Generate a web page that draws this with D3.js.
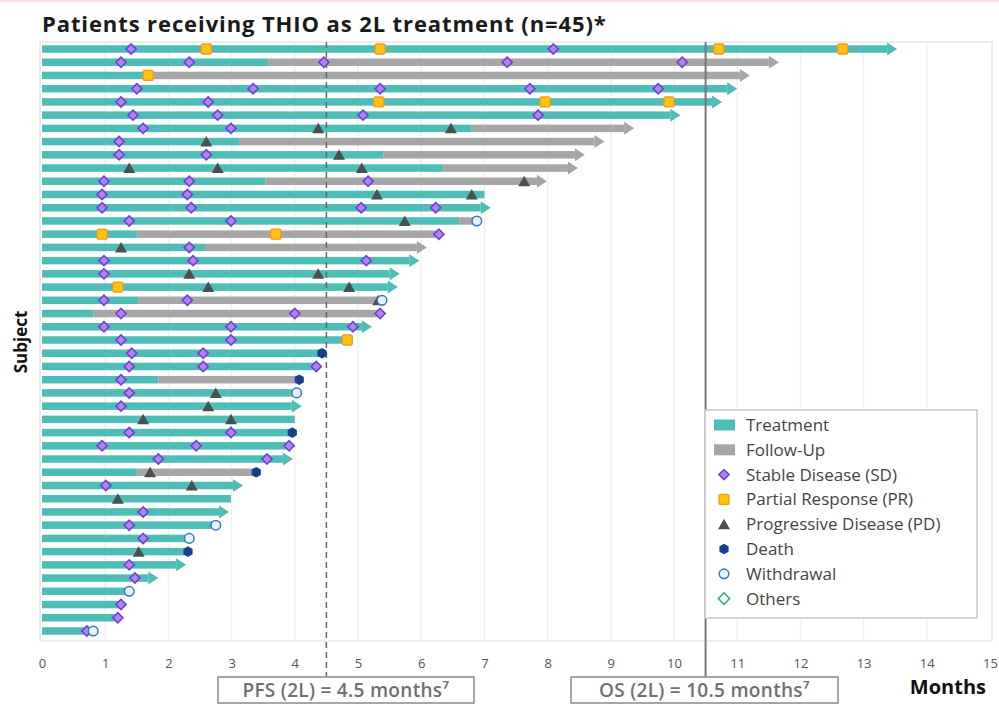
<!DOCTYPE html>
<html><head><meta charset="utf-8">
<script src="https://cdn.jsdelivr.net/npm/d3@7"></script>
<style>
body{margin:0;background:#fff}
svg{display:block}
text{font-family:"Open Sans",sans-serif}
</style>
</head><body>
<svg id="chart" width="999" height="705"></svg>
<script>
// swimmer plot, one row per subject (top = longest)
const months = d3.range(0, 16);
const subjects = d3.range(1, 46);

// end of treatment (teal), end of whole bar (follow-up in gray), arrow = still ongoing
const treatEnd = [13.53,3.58,1.68,11.0,10.76,10.1,6.8,3.13,5.4,6.35,3.54,7.0,7.1,6.6,1.5,2.58,5.97,5.66,5.63,1.52,
  0.81,5.22,4.83,4.43,4.34,1.84,4.03,4.11,4.0,3.96,3.91,3.97,1.5,3.18,2.99,2.96,2.75,2.33,2.31,2.28,1.84,1.38,1.25,1.2,0.81];
const totalEnd = [13.53,11.66,11.2,11.0,10.76,10.1,9.37,8.9,8.59,8.48,7.99,7.0,7.1,6.88,6.28,6.09,5.97,5.66,5.63,5.38,
  5.35,5.22,4.83,4.43,4.34,4.07,4.03,4.11,4.0,3.96,3.91,3.97,3.39,3.18,2.99,2.96,2.75,2.33,2.31,2.28,1.84,1.38,1.25,1.2,0.81];
const ongoing = [1,1,1,1,1,1,1,1,1,1,1,0,1,0,0,1,1,1,1,0,0,1,0,0,0,0,0,1,0,0,0,1,0,1,0,1,0,0,0,1,1,0,0,0,0];

// [subject, month]
const sdEvents = [[1,1.41],[1,8.09],[2,1.25],[2,2.33],[2,4.46],[2,7.36],[2,10.13],[4,1.5],[4,3.34],[4,5.35],[4,7.72],[4,9.75],
  [5,1.25],[5,2.63],[6,1.44],[6,2.78],[6,5.08],[6,7.85],[7,1.6],[7,2.99],[8,1.22],[9,1.22],[9,2.6],[11,0.98],[11,2.33],[11,5.16],
  [12,0.95],[12,2.3],[13,0.95],[13,2.36],[13,5.05],[13,6.23],[14,1.38],[14,2.99],[15,6.28],[16,2.33],[17,0.98],[17,2.39],[17,5.13],
  [18,0.98],[20,0.98],[20,2.3],[21,1.25],[21,4.0],[21,5.35],[22,0.98],[22,2.99],[22,4.92],[23,1.25],[23,2.99],[24,1.42],[24,2.55],
  [25,1.38],[25,2.55],[25,4.34],[26,1.25],[27,1.38],[28,1.25],[30,1.38],[30,2.99],[31,0.95],[31,2.44],[31,3.91],[32,1.84],[32,3.56],
  [34,1.01],[36,1.6],[37,1.38],[38,1.6],[40,1.38],[41,1.47],[43,1.25],[44,1.2],[45,0.71]];
const prEvents = [[1,2.6],[1,5.35],[1,10.71],[1,12.67],[3,1.68],[5,5.33],[5,7.96],[5,9.92],[15,0.95],[15,3.7],[19,1.2],[23,4.83]];
const pdEvents = [[7,4.37],[7,6.47],[8,2.6],[9,4.7],[10,1.38],[10,2.78],[10,5.06],[11,7.63],[12,5.3],[12,6.8],[14,5.74],[16,1.25],
  [18,2.33],[18,4.37],[19,2.63],[19,4.86],[20,5.32],[27,2.75],[28,2.63],[29,1.6],[29,2.99],[33,1.71],[34,2.37],[35,1.2],[39,1.53]];
const deathEvents = [[24,4.43],[26,4.07],[30,3.96],[33,3.39],[39,2.31]];
const withdrawalEvents = [[14,6.88],[20,5.38],[27,4.03],[37,2.75],[38,2.33],[42,1.38],[45,0.81]];

const medianPFS = 4.5, medianOS = 10.5;
const legendItems = ["Treatment","Follow-Up","Stable Disease (SD)","Partial Response (PR)","Progressive Disease (PD)","Death","Withdrawal","Others"];

const TEAL = "#4dbdb6", GREY = "#a6a6a6";
const svg = d3.select("#chart");
const x = d3.scaleLinear().domain([0, 15]).range([42, 990]);
const y = d3.scalePoint().domain(subjects).range([49, 631]);
const barH = 7.5, headLen = 10, headH = 13;

svg.append("rect").attr("x",0).attr("y",0).attr("width",999).attr("height",2).attr("fill","#f6dede");

// title
svg.append("text").attr("x", 42).attr("y", 32)
  .attr("font-size", 22).attr("font-weight", 700).attr("letter-spacing", 0.9).attr("fill", "#1a1a1a")
  .text("Patients receiving THIO as 2L treatment (n=45)*");

// frame + grid
svg.append("rect").attr("x", 40).attr("y", 42).attr("width", 952).attr("height", 599)
  .attr("fill", "none").attr("stroke", "#dcdcdc");
svg.append("g").selectAll("line").data(months.slice(1, 15)).join("line")
  .attr("x1", d => x(d)).attr("x2", d => x(d)).attr("y1", 42).attr("y2", 641)
  .attr("stroke", "#f1f1f1").attr("stroke-width", 1.5);

// bars
const bars = svg.append("g");
subjects.forEach((s, i) => {
  const tE = treatEnd[i], e = totalEnd[i], arrow = ongoing[i];
  const cy = y(s);
  const bodyEnd = arrow ? x(e) - headLen : x(e);
  bars.append("rect").attr("x", x(0)).attr("y", cy - barH / 2)
    .attr("width", Math.min(x(tE), bodyEnd) - x(0)).attr("height", barH).attr("fill", TEAL);
  if (e > tE) {
    bars.append("rect").attr("x", x(tE)).attr("y", cy - barH / 2)
      .attr("width", bodyEnd - x(tE)).attr("height", barH).attr("fill", GREY);
  }
  if (arrow) {
    const b = bodyEnd;
    bars.append("path")
      .attr("d", `M${b},${cy - headH / 2}L${x(e)},${cy}L${b},${cy + headH / 2}Z`)
      .attr("fill", e > tE ? GREY : TEAL);
  }
});

// reference lines
svg.append("line").attr("x1", x(medianPFS)).attr("x2", x(medianPFS)).attr("y1", 42).attr("y2", 677)
  .attr("stroke", "#666").attr("stroke-width", 1.5).attr("stroke-dasharray", "6,4");
svg.append("line").attr("x1", x(medianOS)).attr("x2", x(medianOS)).attr("y1", 42).attr("y2", 677)
  .attr("stroke", "#777").attr("stroke-width", 2);

// marker shapes
function hexPath(r) {
  const pts = d3.range(6).map(k => {
    const a = Math.PI / 6 + k * Math.PI / 3;
    return [r * Math.cos(a), r * Math.sin(a)];
  });
  return "M" + pts.join("L") + "Z";
}
const markerStyles = {
  sd: g => g.append("rect").attr("x", -3.6).attr("y", -3.6).attr("width", 7.2).attr("height", 7.2)
    .attr("transform", "rotate(45)").attr("fill", "#ae86ee").attr("stroke", "#7440d4").attr("stroke-width", 1.6),
  pr: g => g.append("rect").attr("x", -5).attr("y", -5).attr("width", 10).attr("height", 10).attr("rx", 1.5)
    .attr("fill", "#ffc20e").attr("stroke", "#f39a1e").attr("stroke-width", 1.3),
  pd: g => g.append("path").attr("d", "M0,-5.5L6,5L-6,5Z").attr("fill", "#4a4f52"),
  death: g => g.append("path").attr("d", hexPath(5.3)).attr("fill", "#173f8c"),
  wd: g => g.append("circle").attr("r", 4.8).attr("fill", "#e4f3fc").attr("stroke", "#3b78b4").attr("stroke-width", 1.5),
  other: g => g.append("rect").attr("x", -4).attr("y", -4).attr("width", 8).attr("height", 8)
    .attr("transform", "rotate(45)").attr("fill", "#fff").attr("stroke", "#3cb371").attr("stroke-width", 1.6)
};
function drawEvents(list, kind) {
  svg.append("g").selectAll("g").data(list).join("g")
    .attr("transform", d => `translate(${x(d[1])},${y(d[0])})`)
    .each(function () { markerStyles[kind](d3.select(this)); });
}
drawEvents(sdEvents, "sd");
drawEvents(prEvents, "pr");
drawEvents(pdEvents, "pd");
drawEvents(deathEvents, "death");
drawEvents(withdrawalEvents, "wd");

// x axis
const ax = svg.append("g").attr("transform", "translate(0,656)")
  .call(d3.axisBottom(x).tickValues(months).tickSize(0).tickFormat(d3.format("d")));
ax.select(".domain").remove();
ax.selectAll("text").attr("font-family", "Roboto").attr("font-size", 13).attr("fill", "#555");

svg.append("text").attr("x", 986).attr("y", 694).attr("text-anchor", "end")
  .attr("font-size", 20).attr("font-weight", 700).attr("fill", "#111").text("Months");

svg.append("text").attr("transform", "translate(27,342) rotate(-90)").attr("text-anchor", "middle")
  .attr("font-size", 17).attr("font-weight", 700).attr("fill", "#111").text("Subject");

// median boxes
[[218, 256, "PFS (2L) = 4.5 months\u2077"], [571, 267, "OS (2L) = 10.5 months\u2077"]].forEach(b => {
  svg.append("rect").attr("x", b[0]).attr("y", 677).attr("width", b[1]).attr("height", 26)
    .attr("fill", "#fff").attr("stroke", "#8a8a8a").attr("stroke-width", 1.5);
  svg.append("text").attr("x", b[0] + b[1] / 2).attr("y", 697).attr("text-anchor", "middle")
    .attr("font-size", 19).attr("font-weight", 600).attr("letter-spacing", 0.3).attr("fill", "#707070").text(b[2]);
});

// legend
const lg = svg.append("g").attr("transform", "translate(705,410)");
lg.append("rect").attr("width", 272).attr("height", 208).attr("fill", "#fff").attr("stroke", "#c8c8c8").attr("stroke-width", 1.5);
const legendKinds = ["treat", "follow", "sd", "pr", "pd", "death", "wd", "other"];
legendItems.forEach((t, i) => {
  const row = lg.append("g").attr("transform", `translate(19,${15 + i * 24.8})`);
  const k = legendKinds[i];
  if (k === "treat" || k === "follow") {
    row.append("rect").attr("x", -10).attr("y", -5.5).attr("width", 21).attr("height", 11)
      .attr("fill", k === "treat" ? TEAL : GREY);
  } else {
    markerStyles[k](row);
  }
  row.append("text").attr("x", 22).attr("y", 6).attr("font-size", 17).attr("fill", "#444").text(t);
});
</script>
</body></html>
